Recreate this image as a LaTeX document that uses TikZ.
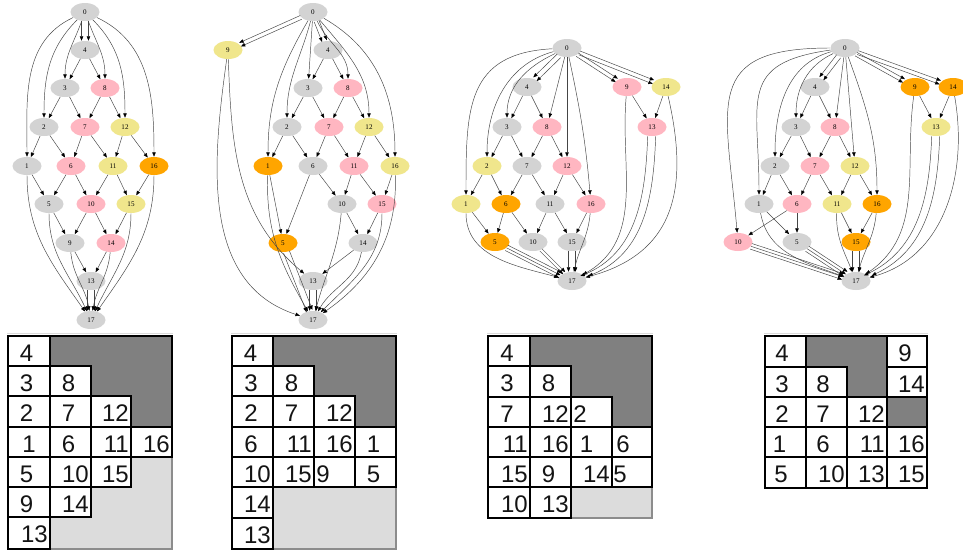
\documentclass[tikz,border=0pt]{standalone}
\usepackage{fontspec}
\newfontfamily\nodefont{Liberation Serif}
\newfontfamily\gridfont{Liberation Sans}
\usetikzlibrary{shapes.geometric,arrows.meta}
\definecolor{cgy}{HTML}{D3D3D3}
\definecolor{cpk}{HTML}{FFB6C1}
\definecolor{ckh}{HTML}{F0E68C}
\definecolor{cog}{HTML}{FFA500}
\definecolor{cdark}{HTML}{808080}
\definecolor{clight}{HTML}{DCDCDC}
\definecolor{cedge}{HTML}{454545}
\tikzset{
 nd/.style={ellipse, minimum width=21.75pt, minimum height=13.5pt, inner sep=0pt,
   font=\nodefont\fontsize{5.3}{6}\selectfont, text=black},
 gy/.style={nd, fill=cgy},
 pk/.style={nd, fill=cpk},
 kh/.style={nd, fill=ckh},
 og/.style={nd, fill=cog},
 e/.style={draw=cedge, line width=0.35pt, -{Triangle[length=3.3pt,width=2.6pt,color=black]}},
 cellb/.style={draw=black, line width=1.25pt, fill=white},
 darkb/.style={draw=black, line width=1.25pt, fill=cdark},
 lightb/.style={draw=black!45, line width=1pt, fill=clight},
 gt/.style={inner sep=0pt, font=\gridfont\fontsize{18}{20}\selectfont, text=black!92},
 topline/.style={draw=black!14, line width=0.8pt},
}
\newcommand{\pp}[3]{%
 \draw[e,transform canvas={xshift={#1pt},yshift={#2pt}}] #3;
 \draw[e,transform canvas={xshift={-(#1pt)},yshift={-(#2pt)}}] #3;}
\newcommand{\ppp}[3]{\pp{#1}{#2}{#3}\draw[e] #3;}
\newcommand{\cellL}[5]{%
 \pgfmathsetmacro\xl{{\gridX}[#2]}%
 \pgfmathsetmacro\xr{{\gridX}[#2+1]}%
 \pgfmathsetmacro\yt{{\gridY}[#3]}%
 \pgfmathsetmacro\yb{{\gridY}[#3+1]}%
 \draw[cellb] (\xl,-\yt) rectangle (\xr,-\yb);
 \node[gt,anchor=base west] (#1) at ({\xl+#5},{-\yt-25.8}) {#4};}
\newcommand{\cellR}[4]{%
 \pgfmathsetmacro\xl{{\gridX}[#2]}%
 \pgfmathsetmacro\xr{{\gridX}[#2+1]}%
 \pgfmathsetmacro\yt{{\gridY}[#3]}%
 \pgfmathsetmacro\yb{{\gridY}[#3+1]}%
 \draw[cellb] (\xl,-\yt) rectangle (\xr,-\yb);
 \node[gt,anchor=base east] (#1) at ({\xr-2},{-\yt-25.8}) {#4};}
\begin{document}
\begin{tikzpicture}[x=0.75pt,y=0.75pt]
\useasboundingbox[fill=white] (0,0) rectangle (963,-551);

% ================= Graph 1 =================
\node[gy] (a0) at (85,-12) {0};
\node[gy] (a4) at (85,-50) {4};
\node[gy] (a3) at (65,-88) {3};
\node[pk] (a8) at (105,-88) {8};
\node[gy] (a2) at (44,-127) {2};
\node[pk] (a7) at (85,-127) {7};
\node[kh] (a12) at (125,-127) {12};
\node[gy] (a1) at (27,-166) {1};
\node[pk] (a6) at (71,-166) {6};
\node[kh] (a11) at (113,-166) {11};
\node[og] (a16) at (154,-166) {16};
\node[gy] (a5) at (49,-204) {5};
\node[pk] (a10) at (91,-204) {10};
\node[kh] (a15) at (131,-204) {15};
\node[gy] (a9) at (70,-243) {9};
\node[pk] (a14) at (111,-243) {14};
\node[gy] (a13) at (91,-281) {13};
\node[gy] (a17) at (91,-320) {17};

\pp{2.6}{0}{(a0) -- (a4)}
\draw[e] (a0) to[out=250,in=90] (a3);
\draw[e] (a0) to[out=225,in=90] (a2);
\draw[e] (a0) to[out=205,in=90] (a1);
\draw[e] (a0) to[out=290,in=90] (a8);
\draw[e] (a0) to[out=315,in=90] (a12);
\draw[e] (a0) to[out=335,in=90] (a16);
\draw[e] (a4) -- (a3); \draw[e] (a4) -- (a8);
\draw[e] (a3) -- (a2); \draw[e] (a3) -- (a7);
\draw[e] (a8) -- (a7); \draw[e] (a8) -- (a12);
\draw[e] (a2) -- (a1); \draw[e] (a2) -- (a6);
\draw[e] (a7) -- (a6); \draw[e] (a7) -- (a11);
\draw[e] (a12) -- (a11); \draw[e] (a12) -- (a16);
\draw[e] (a1) -- (a5); \draw[e] (a6) -- (a5);
\draw[e] (a6) -- (a10); \draw[e] (a11) -- (a10);
\draw[e] (a11) -- (a15); \draw[e] (a16) -- (a15);
\draw[e] (a5) -- (a9); \draw[e] (a10) -- (a9);
\draw[e] (a10) -- (a14); \draw[e] (a15) -- (a14);
\draw[e] (a9) -- (a13); \draw[e] (a14) -- (a13);
\draw[e] (a1) to[out=270,in=125] (a17);
\draw[e] (a5) to[out=270,in=115] (a17);
\draw[e] (a9) to[out=275,in=100] (a17);
\pp{2.6}{0}{(a13) -- (a17)}
\draw[e] (a14) to[out=265,in=80] (a17);
\draw[e] (a15) to[out=270,in=65] (a17);
\draw[e] (a16) to[out=270,in=55] (a17);

% ================= Graph 2 =================
\node[gy] (b0) at (313,-12) {0};
\node[kh] (b9) at (228,-50) {9};
\node[gy] (b4) at (328,-50) {4};
\node[gy] (b3) at (308,-88) {3};
\node[pk] (b8) at (348,-88) {8};
\node[gy] (b2) at (287,-127) {2};
\node[pk] (b7) at (329,-127) {7};
\node[kh] (b12) at (369,-127) {12};
\node[og] (b1) at (268,-166) {1};
\node[gy] (b6) at (313,-166) {6};
\node[pk] (b11) at (354,-166) {11};
\node[kh] (b16) at (395,-166) {16};
\node[gy] (b10) at (342,-204) {10};
\node[pk] (b15) at (382,-204) {15};
\node[og] (b5) at (283,-243) {5};
\node[gy] (b14) at (363,-243) {14};
\node[gy] (b13) at (313,-281) {13};
\node[gy] (b17) at (313,-320) {17};

\pp{0.61}{-1.37}{(b0) -- (b9)}
\pp{1.75}{0.7}{(b0) -- (b4)}
\draw[e] (b0) -- (b3);
\draw[e] (b0) to[out=255,in=90] (b2);
\draw[e] (b0) to[out=240,in=90] (b1);
\draw[e] (b0) to[out=295,in=90] (b8);
\draw[e] (b0) to[out=310,in=90] (b12);
\draw[e] (b0) to[out=330,in=90] (b16);
\draw[e] (b4) -- (b3); \draw[e] (b4) -- (b8);
\draw[e] (b3) -- (b2); \draw[e] (b3) -- (b7);
\draw[e] (b8) -- (b7); \draw[e] (b8) -- (b12);
\draw[e] (b2) -- (b1); \draw[e] (b2) -- (b6);
\draw[e] (b7) -- (b6); \draw[e] (b7) -- (b11);
\draw[e] (b12) -- (b11); \draw[e] (b12) -- (b16);
\draw[e] (b1) -- (b5); \draw[e] (b6) -- (b5);
\draw[e] (b6) -- (b10); \draw[e] (b11) -- (b10);
\draw[e] (b11) -- (b15); \draw[e] (b16) -- (b15);
\draw[e] (b10) -- (b14); \draw[e] (b15) -- (b14);
\draw[e] (b14) -- (b13);
\draw[e] (b9) to[out=272,in=140] (b13);
\draw[e] (b9) to[out=262,in=162] (b17);
\draw[e] (b1) to[out=268,in=120] (b17);
\pp{2.2}{0.85}{(b5) -- (b17)}
\pp{2.5}{0}{(b13) -- (b17)}
\draw[e] (b10) to[out=265,in=75] (b17);
\draw[e] (b14) to[out=260,in=60] (b17);
\draw[e] (b15) to[out=270,in=45] (b17);
\draw[e] (b16) to[out=272,in=35] (b17);

% ================= Graph 3 =================
\node[gy] (c0) at (567,-48) {0};
\node[gy] (c4) at (527,-87) {4};
\node[pk] (c9) at (627,-87) {9};
\node[kh] (c14) at (666,-87) {14};
\node[gy] (c3) at (507,-127) {3};
\node[pk] (c8) at (547,-127) {8};
\node[pk] (c13) at (652,-127) {13};
\node[kh] (c2) at (487,-166) {2};
\node[gy] (c7) at (527,-166) {7};
\node[pk] (c12) at (567,-166) {12};
\node[kh] (c1) at (466,-204) {1};
\node[og] (c6) at (506,-204) {6};
\node[gy] (c11) at (550,-204) {11};
\node[pk] (c16) at (591,-204) {16};
\node[og] (c5) at (495,-242) {5};
\node[gy] (c10) at (533,-242) {10};
\node[gy] (c15) at (572,-242) {15};
\node[gy] (c17) at (572,-281) {17};

\pp{1.3}{-1.35}{(c0) -- (c4)}
\pp{0.82}{1.26}{(c0) -- (c9)}
\pp{0.55}{1.4}{(c0) -- (c14)}
\draw[e] (c0) to[out=205,in=90] (c3);
\draw[e] (c0) to[out=195,in=90] (c2);
\draw[e] (c0) to[out=183,in=90,looseness=1.3] (c1);
\draw[e] (c0) -- (c8);
\draw[e] (c0) -- (c12);
\draw[e] (c0) to[out=282,in=95] (c16);
\draw[e] (c4) -- (c3); \draw[e] (c4) -- (c8);
\draw[e] (c3) -- (c2); \draw[e] (c3) -- (c7);
\draw[e] (c8) -- (c7); \draw[e] (c8) -- (c12);
\draw[e] (c9) -- (c13); \draw[e] (c14) -- (c13);
\draw[e] (c2) -- (c1); \draw[e] (c2) -- (c6);
\draw[e] (c7) -- (c6); \draw[e] (c7) -- (c11);
\draw[e] (c12) -- (c11); \draw[e] (c12) -- (c16);
\draw[e] (c1) -- (c5); \draw[e] (c6) -- (c5);
\draw[e] (c6) -- (c10); \draw[e] (c11) -- (c10);
\draw[e] (c11) -- (c15); \draw[e] (c16) -- (c15);
\draw[e] (c1) to[out=270,in=165] (c17);
\ppp{1.0}{2.0}{(c5) -- (c17)}
\pp{0.8}{0.8}{(c10) -- (c17)}
\pp{2.6}{0}{(c15) -- (c17)}
\draw[e] (c16) to[out=265,in=78] (c17);
\draw[e] (c9) to[out=265,in=30] (c17);
\pp{3}{0}{(c13) to[out=268,in=22] (c17)}
\draw[e] (c14) to[out=283,in=15,looseness=1.2] (c17);

% ================= Graph 4 =================
\node[gy] (d0) at (845,-48) {0};
\node[gy] (d4) at (815,-87) {4};
\node[og] (d9) at (915,-87) {9};
\node[og] (d14) at (953,-87) {14};
\node[gy] (d3) at (796,-127) {3};
\node[pk] (d8) at (835,-127) {8};
\node[kh] (d13) at (936,-127) {13};
\node[gy] (d2) at (775,-166) {2};
\node[pk] (d7) at (815,-166) {7};
\node[kh] (d12) at (855,-166) {12};
\node[gy] (d1) at (759,-204) {1};
\node[pk] (d6) at (797,-204) {6};
\node[kh] (d11) at (837,-204) {11};
\node[og] (d16) at (877,-204) {16};
\node[pk] (d10) at (738,-242) {10};
\node[gy] (d5) at (797,-242) {5};
\node[og] (d15) at (856,-242) {15};
\node[gy] (d17) at (856,-281) {17};

\pp{1.5}{-1.15}{(d0) -- (d4)}
\pp{0.73}{1.3}{(d0) -- (d9)}
\pp{0.5}{1.4}{(d0) -- (d14)}
\draw[e] (d0) to[out=205,in=90] (d3);
\draw[e] (d0) to[out=195,in=90] (d2);
\draw[e] (d0) to[out=188,in=90,looseness=1.5] (d1);
\draw[e] (d0) to[out=180,in=95,looseness=1.6] (d10);
\draw[e] (d0) -- (d8);
\draw[e] (d0) -- (d12);
\draw[e] (d0) to[out=290,in=90] (d16);
\draw[e] (d4) -- (d3); \draw[e] (d4) -- (d8);
\draw[e] (d3) -- (d2); \draw[e] (d3) -- (d7);
\draw[e] (d8) -- (d7); \draw[e] (d8) -- (d12);
\draw[e] (d9) -- (d13); \draw[e] (d14) -- (d13);
\draw[e] (d2) -- (d1); \draw[e] (d2) -- (d6);
\draw[e] (d7) -- (d6); \draw[e] (d7) -- (d11);
\draw[e] (d12) -- (d11); \draw[e] (d12) -- (d16);
\draw[e] (d1) -- (d5); \draw[e] (d6) -- (d5);
\draw[e] (d6) -- (d10);
\draw[e] (d11) -- (d15); \draw[e] (d16) -- (d15);
\draw[e] (d1) to[out=280,in=160] (d17);
\ppp{0.7}{2.1}{(d10) -- (d17)}
\ppp{1.24}{1.9}{(d5) -- (d17)}
\draw[e] (d11) to[out=268,in=112] (d17);
\pp{2.6}{0}{(d15) -- (d17)}
\draw[e] (d16) to[out=265,in=75] (d17);
\draw[e] (d9) to[out=262,in=35] (d17);
\pp{3}{0}{(d13) to[out=268,in=25] (d17)}
\draw[e] (d14) to[out=280,in=15] (d17);

% ================= Grid 1 =================
\draw[topline] (7,-333.3) -- (173,-333.3);
\def\gridX{8,50,91,131,172}
\def\gridY{336,366,396,427,457,487,517,549}
\draw[darkb] (50,-336) -- (172,-336) -- (172,-427) -- (131,-427) -- (131,-396) -- (91,-396) -- (91,-366) -- (50,-366) -- cycle;
\draw[lightb] (131,-457) -- (172,-457) -- (172,-549) -- (50,-549) -- (50,-517) -- (91,-517) -- (91,-487) -- (131,-487) -- cycle;
\cellL{ga4}{0}{0}{4}{11.5}
\cellL{ga3}{0}{1}{3}{11.5} \cellL{ga8}{1}{1}{8}{11.5}
\cellL{ga2}{0}{2}{2}{11.5} \cellL{ga7}{1}{2}{7}{11.5} \cellR{ga12}{2}{2}{12}
\cellL{ga1}{0}{3}{1}{14} \cellL{ga6}{1}{3}{6}{11.5} \cellR{ga11}{2}{3}{11} \cellR{ga16}{3}{3}{16}
\cellL{ga5}{0}{4}{5}{11.5} \cellR{ga10}{1}{4}{10} \cellR{ga15}{2}{4}{15}
\cellL{ga9}{0}{5}{9}{11.5} \cellR{ga14}{1}{5}{14}
\cellR{ga13}{0}{6}{13}

% ================= Grid 2 =================
\draw[topline] (231,-333.3) -- (397,-333.3);
\def\gridX{232,273,314,355,396}
\def\gridY{336,366,396,427,457,487,518,549}
\draw[darkb] (273,-336) -- (396,-336) -- (396,-427) -- (355,-427) -- (355,-396) -- (314,-396) -- (314,-366) -- (273,-366) -- cycle;
\draw[lightb] (273,-487) -- (396,-487) -- (396,-549) -- (273,-549) -- cycle;
\cellL{gb4}{0}{0}{4}{11.5}
\cellL{gb3}{0}{1}{3}{12} \cellL{gb8}{1}{1}{8}{11.5}
\cellL{gb2}{0}{2}{2}{12} \cellL{gb7}{1}{2}{7}{11.5} \cellR{gb12}{2}{2}{12}
\cellL{gb6}{0}{3}{6}{12} \cellR{gb11}{1}{3}{11} \cellR{gb16}{2}{3}{16} \cellL{gb1}{3}{3}{1}{11.5}
\cellR{gb10}{0}{4}{10} \cellR{gb15}{1}{4}{15} \cellL{gb9}{2}{4}{9}{2} \cellL{gb5}{3}{4}{5}{11.5}
\cellR{gb14}{0}{5}{14}
\cellR{gb13}{0}{6}{13}

% ================= Grid 3 =================
\draw[topline] (487,-333.3) -- (653,-333.3);
\def\gridX{488,530,571,612,652}
\def\gridY{336,366,397,427,457,487,518}
\draw[darkb] (530,-336) -- (652,-336) -- (652,-427) -- (612,-427) -- (612,-397) -- (571,-397) -- (571,-366) -- (530,-366) -- cycle;
\draw[lightb] (571,-487) -- (652,-487) -- (652,-518) -- (571,-518) -- cycle;
\cellL{gc4}{0}{0}{4}{12}
\cellL{gc3}{0}{1}{3}{12} \cellL{gc8}{1}{1}{8}{11.5}
\cellL{gc7}{0}{2}{7}{12} \cellR{gc12}{1}{2}{12} \cellL{gc2}{2}{2}{2}{2}
\cellR{gc11}{0}{3}{11} \cellR{gc16}{1}{3}{16} \cellL{gc1}{2}{3}{1}{8.5} \cellL{gc6}{3}{3}{6}{4}
\cellR{gc15}{0}{4}{15} \cellL{gc9}{1}{4}{9}{11.5} \cellR{gc14}{2}{4}{14} \cellL{gc5}{3}{4}{5}{1}
\cellR{gc10}{0}{5}{10} \cellR{gc13}{1}{5}{13}

% ================= Grid 4 =================
\draw[topline] (764,-333.3) -- (928,-333.3);
\def\gridX{765,806,847,887,927}
\def\gridY{336,367,397,427,457,488}
\draw[darkb] (806,-336) -- (887,-336) -- (887,-397) -- (847,-397) -- (847,-367) -- (806,-367) -- cycle;
\draw[darkb] (887,-397) rectangle (927,-427);
\cellL{gd4}{0}{0}{4}{10} \cellL{gd9}{3}{0}{9}{11}
\cellL{gd3}{0}{1}{3}{10} \cellL{gd8}{1}{1}{8}{10} \cellR{gd14}{3}{1}{14}
\cellL{gd2}{0}{2}{2}{10} \cellL{gd7}{1}{2}{7}{10} \cellR{gd12}{2}{2}{12}
\cellL{gd1}{0}{3}{1}{7.5} \cellL{gd6}{1}{3}{6}{10} \cellR{gd11}{2}{3}{11} \cellR{gd16}{3}{3}{16}
\cellL{gd5}{0}{4}{5}{9} \cellR{gd10}{1}{4}{10} \cellR{gd13}{2}{4}{13} \cellR{gd15}{3}{4}{15}
\end{tikzpicture}
\end{document}
